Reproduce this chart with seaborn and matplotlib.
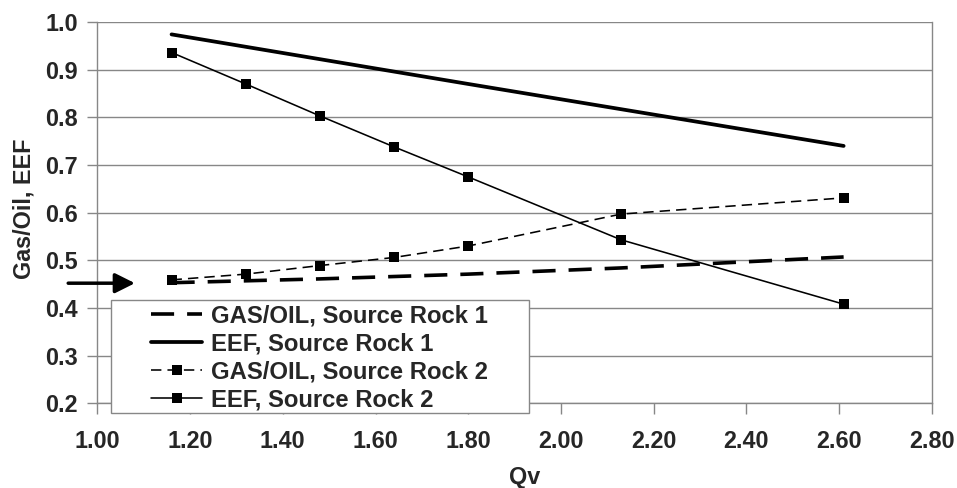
import matplotlib
matplotlib.use("Agg")
import matplotlib.pyplot as plt
from matplotlib.lines import Line2D
from matplotlib.patches import Rectangle
import seaborn as sns
import pandas as pd

# ---- data ----
qv = [1.16, 1.32, 1.48, 1.64, 1.80, 2.13, 2.61]
gasoil_sr1 = [0.453, 0.457, 0.461, 0.466, 0.471, 0.484, 0.507]
eef_sr1 = [0.974, 0.948, 0.922, 0.896, 0.870, 0.817, 0.740]
gasoil_sr2 = [0.459, 0.471, 0.489, 0.506, 0.530, 0.597, 0.631]
eef_sr2 = [0.936, 0.870, 0.803, 0.738, 0.675, 0.543, 0.408]
series_labels = ["GAS/OIL, Source Rock 1", "EEF, Source Rock 1",
                 "GAS/OIL, Source Rock 2", "EEF, Source Rock 2"]
x_ticks = [1.00, 1.20, 1.40, 1.60, 1.80, 2.00, 2.20, 2.40, 2.60, 2.80]
y_ticks = [0.2, 0.3, 0.4, 0.5, 0.6, 0.7, 0.8, 0.9, 1.0]
x_label = "Qv"
y_label = "Gas/Oil, EEF"
arrow_y = 0.452

sns.set_style("white")
plt.rcParams["font.family"] = ["Liberation Sans", "DejaVu Sans"]
plt.rcParams["font.weight"] = "bold"

W, H = 957, 488
fig = plt.figure(figsize=(W / 100, H / 100), dpi=100)
left, right, top, bottom = 97.4, 931.7, 22.0, 403.3
ax = fig.add_axes([left / W, 1 - bottom / H, (right - left) / W, (bottom - top) / H])

grid_c = "#878787"
df = pd.DataFrame({"qv": qv, "g1": gasoil_sr1, "e1": eef_sr1, "g2": gasoil_sr2, "e2": eef_sr2})

style_g1 = dict(color="black", lw=2.6, linestyle=(0, (6.4, 3.6)))
style_e1 = dict(color="black", lw=2.7)
style_g2 = dict(color="black", lw=1.15, linestyle=(0, (6.5, 3.8)), marker="s",
                markersize=7, markeredgewidth=0)
style_e2 = dict(color="black", lw=1.15, marker="s", markersize=7, markeredgewidth=0)

sns.lineplot(data=df, x="qv", y="g1", ax=ax, sort=False, zorder=3, **style_g1)
sns.lineplot(data=df, x="qv", y="e1", ax=ax, sort=False, zorder=3, **style_e1)
sns.lineplot(data=df, x="qv", y="g2", ax=ax, sort=False, zorder=4, **style_g2)
sns.lineplot(data=df, x="qv", y="e2", ax=ax, sort=False, zorder=4, **style_e2)

ax.set_xlim(1.0, 2.8)
ax.set_ylim(0.2, 1.0)
ax.set_xticks(x_ticks)
ax.set_xticklabels([f"{v:.2f}" for v in x_ticks], fontsize=16.8, fontweight="bold")
ax.set_yticks(y_ticks)
ax.set_yticklabels([f"{v:.1f}" for v in y_ticks], fontsize=16.8, fontweight="bold")
ax.tick_params(axis="x", direction="out", length=8, width=1, color=grid_c, pad=11, bottom=True)
ax.tick_params(axis="y", direction="out", length=7, width=1, color=grid_c, pad=7, left=True)

ax.yaxis.grid(True, color=grid_c, lw=1)
ax.xaxis.grid(False)
for s in ax.spines.values():
    s.set_color(grid_c)
    s.set_linewidth(1)
ax.spines["top"].set_visible(False)

ax.set_xlabel(x_label, fontsize=16.8, fontweight="bold")
ax.set_ylabel(y_label, fontsize=16.8, fontweight="bold")
ax.xaxis.set_label_coords(0.512, -0.165)
ax.yaxis.set_label_coords(-0.0736, 0.51)

# legend: frame drawn as a rectangle at its place, entries without frame
frame = Rectangle((111 / W, 1 - 413 / H), (529 - 111) / W, (413 - 300) / H,
                  transform=fig.transFigure, facecolor="white", edgecolor=grid_c,
                  lw=1, zorder=9, clip_on=False)
ax.add_patch(frame)
handles = [Line2D([], [], **style_g1), Line2D([], [], **style_e1),
           Line2D([], [], **style_g2), Line2D([], [], **style_e2)]
leg = ax.legend(handles, series_labels, loc="upper left",
                bbox_to_anchor=(151 / W, 1 - 304 / H), bbox_transform=fig.transFigure,
                borderaxespad=0, frameon=False,
                prop={"size": 17.2, "weight": "bold"}, handlelength=2.15,
                handletextpad=0.38, labelspacing=0.21, borderpad=0)
leg.set_zorder(10)

# arrow pointing at the axis
ax.annotate("", xy=(1.081, arrow_y), xytext=(0.937, arrow_y),
            xycoords="data", textcoords="data", annotation_clip=False,
            arrowprops=dict(arrowstyle="-|>,head_length=0.4,head_width=0.2",
                            color="black", lw=2.5, mutation_scale=30,
                            shrinkA=0, shrinkB=0))

fig.savefig("out.png", dpi=100)
